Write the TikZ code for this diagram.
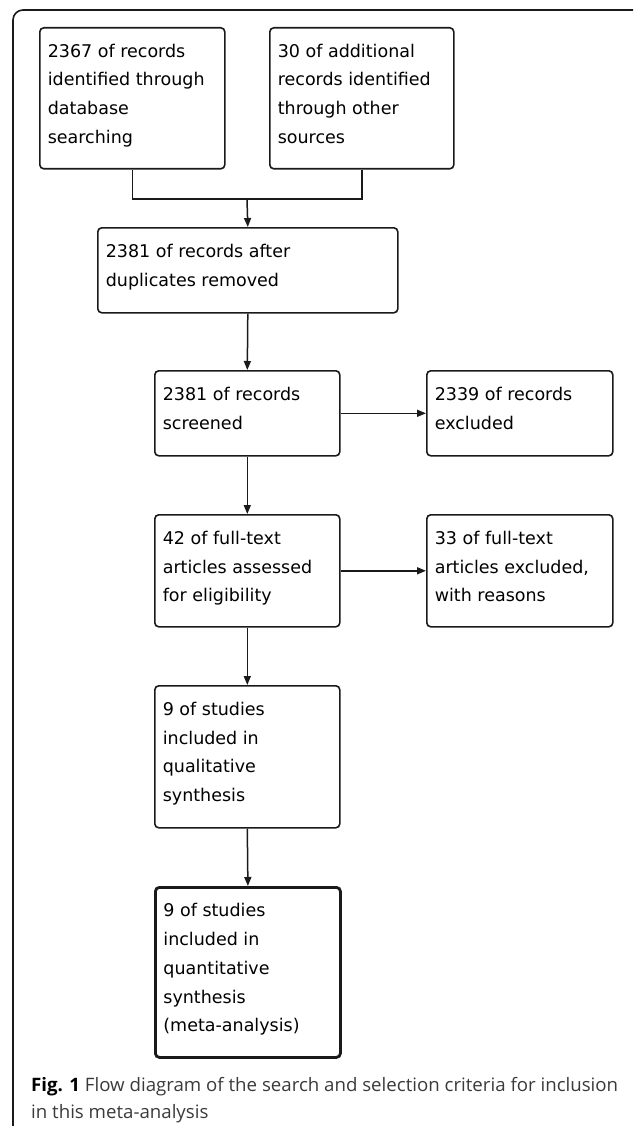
\documentclass[tikz,border=0pt]{standalone}
\usepackage{fontspec}
\usepackage{graphicx}
\setmainfont{DejaVu Sans}
\newfontfamily\capfont{Open Sans}
\usetikzlibrary{arrows.meta}
\definecolor{capgray}{HTML}{3A3A3A}
\definecolor{linegray}{HTML}{1A1A1A}
\newlength\capw
\newcommand\boxtext[3]{\parbox[t][#2][t]{#1}{\leftskip=8pt\rightskip=0pt plus 1fil\rule{0pt}{29.5pt}#3}}
\newcommand\capfirst{\textbf{Fig. 1} Flow diagram of the search and selection criteria for inclusion}
\tikzset{
  flowbox/.style={draw=linegray, rounded corners=4pt, line width=1.6pt, inner sep=0pt,
    anchor=north west, font=\fontsize{17.5}{28.7}\selectfont},
  finalbox/.style={flowbox, line width=2.8pt},
  link/.style={draw=linegray, line width=1.5pt},
  conn/.style={link, -{Triangle[length=9pt,width=7pt]}},
  outerframe/.style={draw=linegray, line width=1.6pt, rounded corners=10pt},
  captext/.style={anchor=base west, inner sep=0pt},
}
\begin{document}
\settowidth\capw{\capfont\fontsize{18.5}{28}\selectfont\capfirst}%
\pgfmathsetmacro\capscale{587pt/\capw}%
\begin{tikzpicture}[x=1pt,y=-1pt]
\useasboundingbox (0,0) rectangle (633,1126);
\begin{scope}
  \clip (0,0) rectangle (633,1126);
  \draw[outerframe] (13,10) rectangle (645,1136);
\end{scope}

\node[flowbox] (A) at (39,27) {\boxtext{185pt}{141pt}{2367 of records\\identified through\\database\\searching}};
\node[flowbox] (B) at (269,27) {\boxtext{184pt}{141pt}{30 of additional\\records identified\\through other\\sources}};
\node[flowbox] (C) at (97,227) {\boxtext{300pt}{85pt}{2381 of records after\\duplicates removed}};
\node[flowbox] (D) at (154,370) {\boxtext{185pt}{85pt}{2381 of records\\screened}};
\node[flowbox] (E) at (426,370) {\boxtext{186pt}{85pt}{2339 of records\\excluded}};
\node[flowbox] (F) at (154,514) {\boxtext{185pt}{112pt}{42 of full-text\\articles assessed\\for eligibility}};
\node[flowbox] (G) at (426,514) {\boxtext{186pt}{112pt}{33 of full-text\\articles excluded,\\with reasons}};
\node[flowbox] (H) at (154,685) {\boxtext{185pt}{142pt}{9 of studies\\included in\\qualitative\\synthesis}};
\node[finalbox] (I) at (154,886) {\boxtext{185pt}{170pt}{9 of studies\\included in\\quantitative\\synthesis\\(meta-analysis)}};

\coordinate (J) at (247,199);
\draw[link] (A.south) |- (J) -| (B.south);
\draw[conn] (J) -- (C.north);
\draw[conn] (C.south) -- (D.north);
\draw[conn] (D.east) -- (D.east -| E.west);
\draw[conn] (D.south) -- (F.north);
\draw[conn] (F.east) -- (F.east -| G.west);
\draw[conn] (F.south) -- (H.north);
\draw[conn] (H.south) -- (I.north);

\node[captext] (cap1) at (31,1091) {\scalebox{\capscale}[1]{\capfont\fontsize{18.5}{28}\selectfont\textbf{Fig. 1} {\color{capgray}Flow diagram of the search and selection criteria for inclusion}}};
\node[captext] (cap2) at (31,1118) {\scalebox{\capscale}[1]{\capfont\fontsize{18.5}{28}\selectfont\color{capgray}in this meta-analysis}};
\end{tikzpicture}
\end{document}
